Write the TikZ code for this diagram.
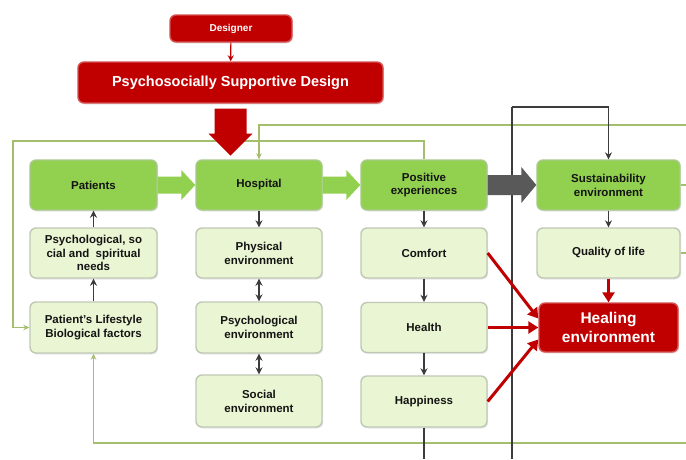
\documentclass[tikz,border=0pt]{standalone}
\usepackage{fontspec}
\setmainfont{Liberation Sans}
\usetikzlibrary{arrows.meta,calc,shadows}
\definecolor{dgreen}{HTML}{92D050}
\definecolor{dgreenb}{HTML}{A9C98A}
\definecolor{lgreen}{HTML}{EAF6D3}
\definecolor{lgreenb}{HTML}{BFC8B4}
\definecolor{myred}{HTML}{C00000}
\definecolor{myredb}{HTML}{D45050}
\definecolor{oline}{HTML}{A3BE6C}
\definecolor{bline}{HTML}{3C3C3C}
\definecolor{garr}{HTML}{595959}
\newcommand\barrow[6]{%
 \fill[#6] ($(#1)+(0,-#3)$) -- ($(#2)+(-#5,-#3)$) -- ($(#2)+(-#5,-#4)$) -- (#2) -- ($(#2)+(-#5,#4)$) -- ($(#2)+(-#5,#3)$) -- ($(#1)+(0,#3)$) -- cycle;}
\tikzset{
 box/.style={rectangle, rounded corners=6pt, line width=1.4pt, align=center,
   font=\fontsize{11.5pt}{13.8pt}\selectfont\bfseries, text=black!92,
   drop shadow={opacity=0.18, shadow xshift=1.2pt, shadow yshift=-1.5pt}},
 dbox/.style={box, fill=dgreen, draw=dgreenb},
 lbox/.style={box, fill=lgreen, draw=lgreenb},
 rbox/.style={box, fill=myred, draw=myredb, text=white},
 gline/.style={draw=oline, line width=1.6pt},
 gline arrow/.style={gline, -{Stealth[length=6pt,width=5.5pt]}},
 bconn/.style={draw=bline, line width=1.2pt},
 barr/.style={bconn, -{Stealth[length=7pt,width=7pt]}},
 bdarr/.style={bconn, {Stealth[length=7pt,width=7pt]}-{Stealth[length=7pt,width=7pt]}},
 rarr/.style={draw=myred, line width=3pt, -{Triangle[length=10pt,width=12pt]}},
}
\begin{document}
\begin{tikzpicture}[x=1pt,y=-1pt]
\useasboundingbox (0,0) rectangle (686,459);
\fill[white] (0,0) rectangle (686,459);

% top red boxes
\node[rbox, minimum width=122pt, minimum height=27pt, font=\fontsize{10pt}{11pt}\selectfont\bfseries] (des) at (231,28.5) {Designer};
\node[rbox, minimum width=305pt, minimum height=41pt, font=\fontsize{14.5pt}{17pt}\selectfont\bfseries] (psd) at (230.5,82.5) {Psychosocially Supportive Design};
\draw[draw=myred, line width=1.2pt, -{Stealth[length=6pt,width=6pt]}] (des) -- (psd);

% background lines
\coordinate (rA) at (686,125);
\coordinate (rB) at (686,443);
\coordinate (bB) at (512,459);
\coordinate (bT) at (512,107);
\coordinate (lft) at (13,141);

% nodes
\node[dbox, minimum width=127pt, minimum height=50pt] (pat) at (93.5,185) {Patients};
\node[dbox, minimum width=126pt, minimum height=50pt] (hosp) at (259,185) {Hospital};
\node[dbox, minimum width=126pt, minimum height=50pt] (pos) at (424,185) {Positive\\experiences};
\node[dbox, minimum width=143pt, minimum height=50pt] (sus) at (608.5,185) {Sustainability\\environment};

\node[lbox, minimum width=127pt, minimum height=50pt] (needs) at (93.5,253) {Psychological, so\\cial and\ \ spiritual\\needs};
\node[lbox, minimum width=126pt, minimum height=50pt] (phys) at (259,253) {Physical\\environment};
\node[lbox, minimum width=126pt, minimum height=50pt] (com) at (424,253) {Comfort};
\node[lbox, minimum width=143pt, minimum height=50pt] (qol) at (608.5,253) {Quality of life};

\node[lbox, minimum width=127pt, minimum height=51pt] (life) at (93.5,327.5) {Patient's Lifestyle\\Biological factors};
\node[lbox, minimum width=126pt, minimum height=51pt] (psyenv) at (259,327.5) {Psychological\\environment};
\node[lbox, minimum width=126pt, minimum height=50pt] (hea) at (424,327.5) {Health};
\node[rbox, minimum width=139pt, minimum height=49pt, font=\fontsize{15.5pt}{19pt}\selectfont\bfseries] (heal) at (608.5,327.5) {Healing\\environment};

\node[lbox, minimum width=126pt, minimum height=52pt] (soc) at (259,401) {Social\\environment};
\node[lbox, minimum width=126pt, minimum height=51pt] (hap) at (424,401.5) {Happiness};

% green feedback lines
\draw[gline arrow] (rA) -| (hosp.north);
\draw[gline arrow] (pos.north) |- (lft) |- (life.west);
\draw[gline arrow] (rB) -| (life.south);
\draw[gline] (sus.east) -- (sus.east -| rA);
\draw[gline] (qol.east) -- (qol.east -| rA);

% black lines
\draw[bconn] (bB) -- (bT);
\draw[barr] (bT) -| (sus.north);
\draw[bconn] (hap.south) -- (hap.south |- bB);

% block arrows
\barrow{pat.east}{hosp.west}{8.5}{15}{14}{dgreen}
\barrow{hosp.east}{pos.west}{8.5}{15}{14}{dgreen}
\barrow{pos.east}{sus.west}{10}{18}{15}{garr}

% big red arrow
\fill[myred] ($(psd.south)+(-16,5)$) -- ($(psd.south)+(16,5)$) -- ($(psd.south)+(16,30)$) -- ($(psd.south)+(22,30)$) -- ($(psd.south)+(0,52)$) -- ($(psd.south)+(-22,30)$) -- ($(psd.south)+(-16,30)$) -- cycle;

% small black arrows
\draw[barr] (needs) -- (pat);
\draw[barr] (life) -- (needs);
\draw[barr] (hosp) -- (phys);
\draw[bdarr] (phys) -- (psyenv);
\draw[bdarr] (psyenv) -- (soc);
\draw[barr] (pos) -- (com);
\draw[barr] (com) -- (hea);
\draw[barr] (hea) -- (hap);
\draw[barr] (sus) -- (qol);

% red arrows
\draw[rarr] (com.east) -- ($(heal.west)+(0,-9)$);
\draw[rarr] (hea.east) -- (heal.west);
\draw[rarr] (hap.east) -- ($(heal.west)+(0,12)$);
\draw[rarr] (qol) -- (heal);
\end{tikzpicture}
\end{document}
